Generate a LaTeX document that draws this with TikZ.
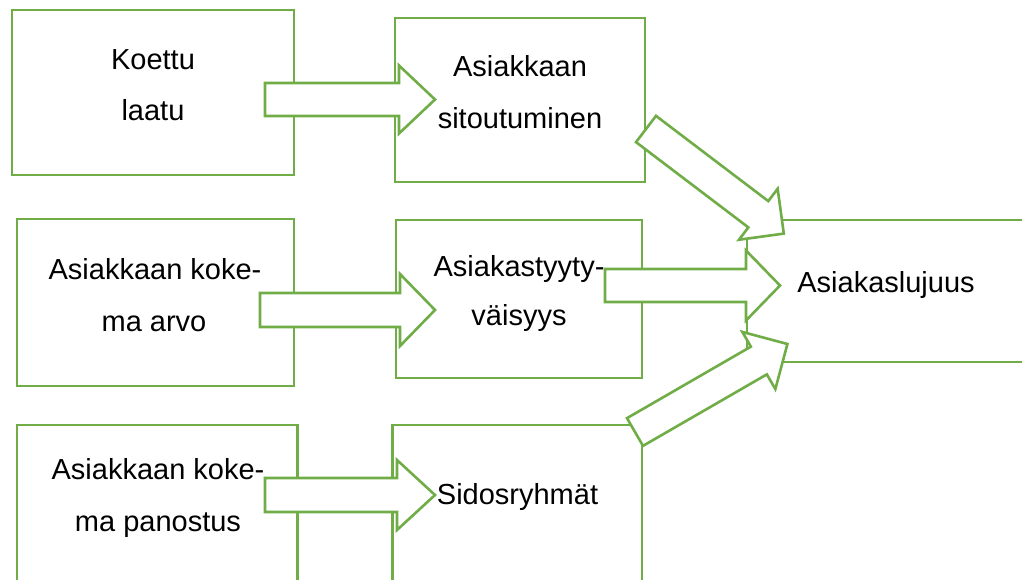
\documentclass[tikz,border=0pt]{standalone}
\usepackage{fontspec}
\setmainfont{Liberation Sans}
\definecolor{grn}{RGB}{112,173,71}
\tikzset{
  box/.style={draw=grn, line width=2.6pt, fill=white, inner sep=0pt, outer sep=0pt, anchor=north west},
  arr/.style={draw=grn, line width=2.6pt, fill=white, miter limit=10},
  txt/.style={anchor=base, inner sep=0pt, font=\fontsize{29}{52}\selectfont}
}
% block arrow: tail coordinate, angle, shaft length, head length, shaft half width, head half width
\newcommand\blockarr[6]{%
  \begin{scope}[shift={(#1)}, rotate=#2]
    \draw[arr] (0,#5) -- (#3,#5) -- (#3,#6) -- ({#3+#4},0) -- (#3,-#6) -- (#3,-#5) -- (0,-#5) -- cycle;
  \end{scope}}
\begin{document}
\begin{tikzpicture}[x=1pt, y=-1pt]
\useasboundingbox (0,0) rectangle (1022,579);
\clip (0,0) rectangle (1022,579);
% boxes
\node[box, minimum width=282pt, minimum height=165pt] (A) at (12,10) {};
\node[box, minimum width=250pt, minimum height=164pt] (B) at (395,18) {};
\node[box, minimum width=277pt, minimum height=167pt] (C) at (17,219) {};
\node[box, minimum width=246pt, minimum height=158pt] (D) at (396,220) {};
\node[box, minimum width=280.5pt, minimum height=180pt] (E) at (17,425) {};
\node[box, minimum width=249.5pt, minimum height=180pt] (F) at (392.5,425) {};
\node[box, minimum width=300pt, minimum height=142pt] (G) at (747,220) {};
% arrow tails
\coordinate (tAB) at (265,99.5);
\coordinate (tCD) at (260,310);
\coordinate (tEF) at (265,495);
\coordinate (tDG) at (605,285.5);
\coordinate (tBG) at (646,129);
\coordinate (tFG) at (635,432);
% block arrows
\blockarr{tAB}{0}{134}{36}{16.5}{34}
\blockarr{tCD}{0}{140}{35}{17}{36}
\blockarr{tEF}{0}{132}{38}{17}{35}
\blockarr{tDG}{0}{141}{34}{16.5}{35}
\blockarr{tBG}{-37.2}{141}{32}{16.5}{32}
\blockarr{tFG}{30}{143}{33}{16}{33}
% texts
\node[txt] (A1) at (153,69) {Koettu};
\node[txt] (A2) at (153,120) {laatu};
\node[txt] (B1) at (520,76) {Asiakkaan};
\node[txt] (B2) at (520,128) {sitoutuminen};
\node[txt] (C1) at (155,279) {Asiakkaan koke-};
\node[txt] (C2) at (154,331) {ma arvo};
\node[txt] (D1) at (519,276) {Asiakastyyty-};
\node[txt] (D2) at (519,325) {väisyys};
\node[txt] (E1) at (158,479) {Asiakkaan koke-};
\node[txt] (E2) at (158,531) {ma panostus};
\node[txt] (F1) at (517.5,504) {Sidosryhmät};
\node[txt] (G1) at (886,292) {Asiakaslujuus};
\end{tikzpicture}
\end{document}
